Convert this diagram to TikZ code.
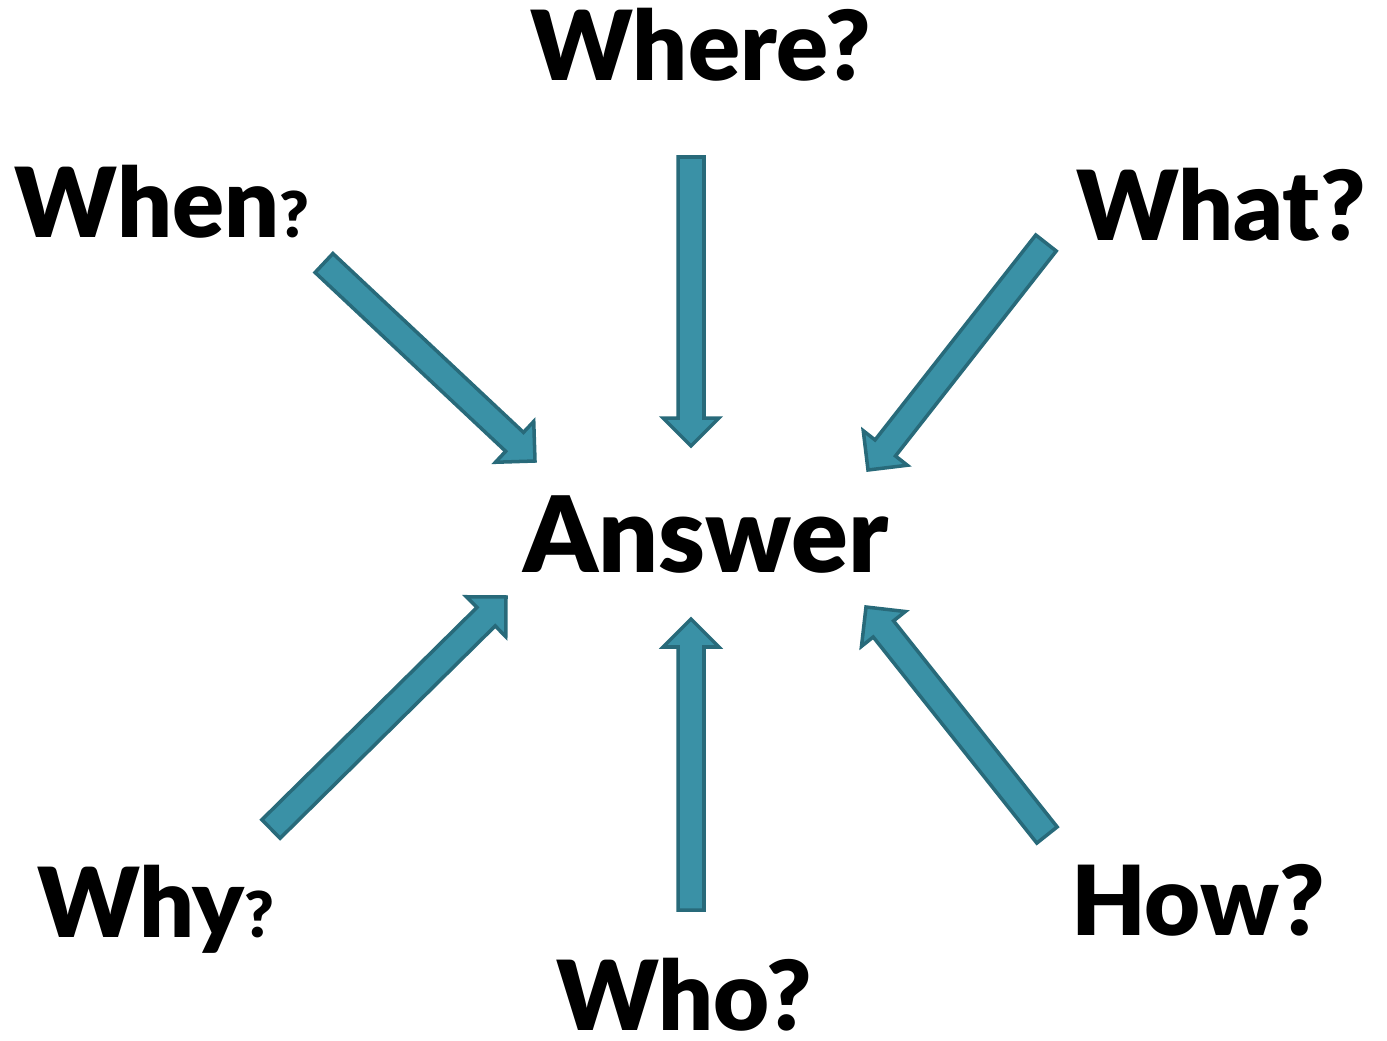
\documentclass[tikz,border=0pt]{standalone}
\usepackage{fontspec}
\newfontfamily\qfont{Lato Black}
\usetikzlibrary{calc}
\definecolor{arrowfill}{RGB}{58,145,166}
\definecolor{arrowedge}{RGB}{40,106,122}
\tikzstyle{question} = [
    font=\qfont\fontsize{55}{55}\selectfont,
    anchor=base,
    inner sep=0pt
]
\tikzstyle{answer} = [
    font=\qfont\fontsize{60}{60}\selectfont,
    anchor=base,
    inner sep=0pt
]
\tikzstyle{blockarrow} = [
    fill=arrowfill,
    draw=arrowedge,
    line width=2pt,
    line join=miter
]
\newcommand{\smallq}{{\fontsize{36}{36}\selectfont ?}}

\begin{document}
\begin{tikzpicture}[x=0.02cm, y=-0.02cm]
\useasboundingbox (0,0) rectangle (1387,1041);

\node (answer) [answer] at (706,572) {Answer};

\node (where) [question] at (701,80) {Where?};
\node (when) [question] at (162,237) {When\smallq};
\node (what) [question] at (1221,240) {What?};
\node (why) [question] at (156,937) {Why\smallq};
\node (who) [question, text depth=0pt] at (684,1030) {Who?};
\node (how) [question] at (1198,935) {How?};

\coordinate (where-tail) at (691,157);
\coordinate (where-tip) at (691,446);
\coordinate (when-tail) at (324,263);
\coordinate (when-tip) at (535,461);
\coordinate (what-tail) at (1046,243);
\coordinate (what-tip) at (868,470);
\coordinate (why-tail) at (271,829);
\coordinate (why-tip) at (506,597);
\coordinate (who-tail) at (691,910);
\coordinate (who-tip) at (691,619);
\coordinate (how-tail) at (1047,835);
\coordinate (how-tip) at (866,607);

\foreach \q in {where,when,what,why,who,how} {
    \coordinate (\q-head) at ($(\q-tip)!0.56cm!(\q-tail)$);
    \draw [blockarrow]
        ($(\q-tail)!0.26cm!90:(\q-tip)$) --
        ($(\q-head)!0.26cm!90:(\q-tip)$) --
        ($(\q-head)!0.56cm!90:(\q-tip)$) --
        (\q-tip) --
        ($(\q-head)!0.56cm!-90:(\q-tip)$) --
        ($(\q-head)!0.26cm!-90:(\q-tip)$) --
        ($(\q-tail)!0.26cm!-90:(\q-tip)$) -- cycle;
}

\end{tikzpicture}
\end{document}
